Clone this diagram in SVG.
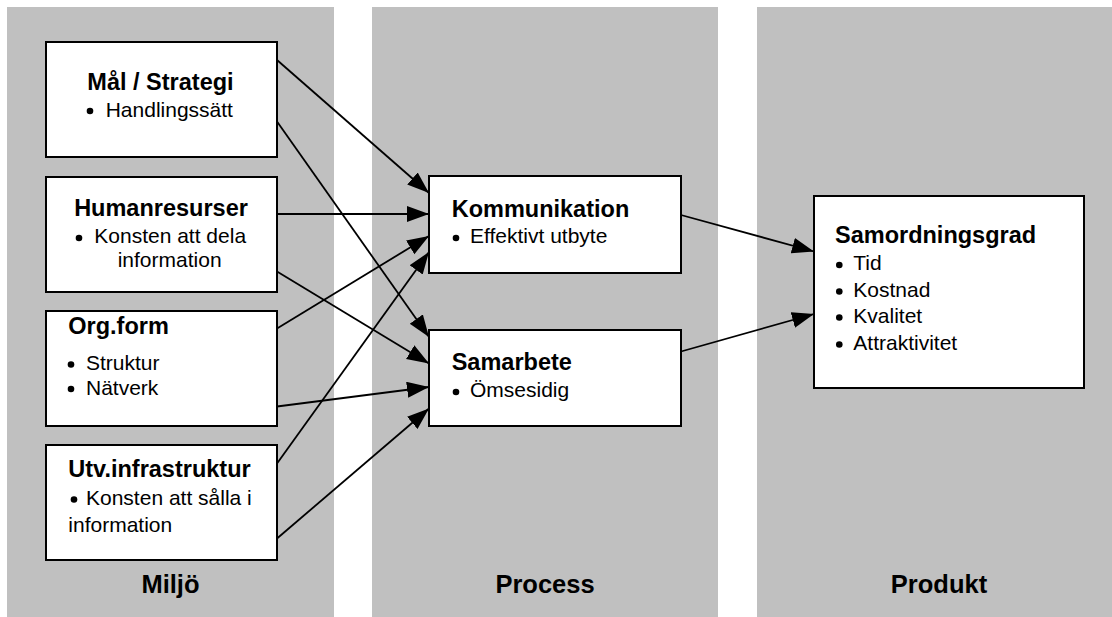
<svg xmlns="http://www.w3.org/2000/svg" width="1112" height="617" viewBox="0 0 1112 617">
  <style>
    .panel { fill: #c0c0c0; }
    .box { fill: #ffffff; stroke: #000000; stroke-width: 2; }
    .title { font-family: "Liberation Sans", Arial, sans-serif; font-weight: bold; font-size: 23.5px; fill: #000; }
    .item { font-family: "Liberation Sans", Arial, sans-serif; font-size: 21px; fill: #000; }
    .stage { font-family: "Liberation Sans", Arial, sans-serif; font-weight: bold; font-size: 25.5px; fill: #000; text-anchor: middle; }
    .link { stroke: #000; stroke-width: 1.8; fill: none; marker-end: url(#arrow); }
  </style>
  <defs>
    <marker id="arrow" markerUnits="userSpaceOnUse" markerWidth="23" markerHeight="17" refX="22" refY="8" orient="auto">
      <path d="M0,0 L22,8 L0,16 z" fill="#000"/>
    </marker>
    <circle id="dot" r="3.3" fill="#000"/>
  </defs>

  <!-- stage columns -->
  <g id="stages">
    <rect class="panel" x="7" y="7" width="327" height="615"/>
    <rect class="panel" x="372" y="7" width="346" height="615"/>
    <rect class="panel" x="757" y="7" width="360" height="615"/>
    <text class="stage" x="170.5" y="593">Miljö</text>
    <text class="stage" x="545" y="593">Process</text>
    <text class="stage" x="939" y="593">Produkt</text>
  </g>

  <g id="mal-strategi">
    <rect class="box" x="46" y="42" width="231" height="115"/>
    <text class="title" x="160.5" y="89.5" text-anchor="middle">Mål / Strategi</text>
    <use href="#dot" x="90" y="111"/>
    <text class="item" x="105.7" y="117">Handlingssätt</text>
  </g>

  <g id="humanresurser">
    <rect class="box" x="46" y="177" width="231" height="115"/>
    <text class="title" x="161" y="216" text-anchor="middle">Humanresurser</text>
    <use href="#dot" x="79" y="238"/>
    <text class="item" x="94.3" y="243.3">Konsten att dela</text>
    <text class="item" x="117.7" y="267.3">information</text>
  </g>

  <g id="org-form">
    <rect class="box" x="46" y="311" width="231" height="115"/>
    <text class="title" x="68.3" y="334">Org.form</text>
    <use href="#dot" x="71" y="364.5"/>
    <text class="item" x="86" y="370">Struktur</text>
    <use href="#dot" x="71" y="389"/>
    <text class="item" x="86" y="394.5">Nätverk</text>
  </g>

  <g id="utv-infrastruktur">
    <rect class="box" x="46" y="445" width="231" height="115"/>
    <text class="title" x="68.3" y="476.7">Utv.infrastruktur</text>
    <use href="#dot" x="74" y="499.5"/>
    <text class="item" x="86" y="505">Konsten att sålla i</text>
    <text class="item" x="68.3" y="531.7">information</text>
  </g>

  <g id="kommunikation">
    <rect class="box" x="429" y="176" width="252" height="97"/>
    <text class="title" x="451.7" y="216.7">Kommunikation</text>
    <use href="#dot" x="456" y="238"/>
    <text class="item" x="470" y="243.3">Effektivt utbyte</text>
  </g>

  <g id="samarbete">
    <rect class="box" x="429" y="330" width="252" height="96"/>
    <text class="title" x="451.7" y="370">Samarbete</text>
    <use href="#dot" x="456" y="392"/>
    <text class="item" x="470" y="397.3">Ömsesidig</text>
  </g>

  <g id="samordningsgrad">
    <rect class="box" x="814" y="196" width="270" height="192"/>
    <text class="title" x="835" y="243.3">Samordningsgrad</text>
    <use href="#dot" x="839.3" y="265"/>
    <text class="item" x="853.3" y="270">Tid</text>
    <use href="#dot" x="839.3" y="291.5"/>
    <text class="item" x="853.3" y="296.7">Kostnad</text>
    <use href="#dot" x="839.3" y="317.5"/>
    <text class="item" x="853.3" y="322.7">Kvalitet</text>
    <use href="#dot" x="839.3" y="344.5"/>
    <text class="item" x="853.3" y="350">Attraktivitet</text>
  </g>

  <g id="connectors">
    <!-- into Kommunikation -->
    <line class="link" x1="277" y1="60" x2="429" y2="193"/>
    <line class="link" x1="277" y1="214" x2="429" y2="214"/>
    <line class="link" x1="277" y1="328.5" x2="429" y2="236"/>
    <line class="link" x1="277" y1="463.5" x2="429" y2="252"/>
    <!-- into Samarbete -->
    <line class="link" x1="277" y1="121.5" x2="429" y2="337"/>
    <line class="link" x1="277" y1="271.5" x2="429" y2="363.5"/>
    <line class="link" x1="277" y1="406.5" x2="429" y2="387"/>
    <line class="link" x1="277" y1="538.5" x2="429" y2="408.5"/>
    <!-- into Samordningsgrad -->
    <line class="link" x1="681" y1="215" x2="814" y2="251.5"/>
    <line class="link" x1="681" y1="351.5" x2="814" y2="314"/>
  </g>
</svg>
